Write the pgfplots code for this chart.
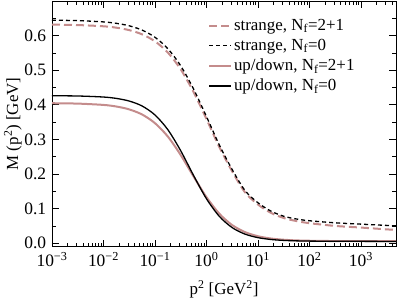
\documentclass[border=0pt]{standalone}
\usepackage{fontspec}
\setmainfont{Liberation Serif}
\usepackage{pgfplots}
\usepackage{pgfplotstable}
\pgfplotsset{compat=1.18}
\definecolor{rosy}{RGB}{196,140,140}
\pgfplotstableread{
x        s21     s0      ud21    ud0
0.001    0.6317  0.6445  0.4046  0.4262
0.003162 0.6305  0.6433  0.4035  0.4255
0.01     0.6269  0.6396  0.3997  0.4225
0.01778  0.6229  0.6355  0.3951  0.4185
0.03162  0.6158  0.6283  0.3868  0.4109
0.05623  0.6037  0.6159  0.3720  0.3966
0.1      0.5835  0.5952  0.3470  0.3707
0.1778   0.5511  0.5621  0.3083  0.3282
0.3162   0.5025  0.5126  0.2549  0.2673
0.5623   0.4369  0.4455  0.1929  0.1957
1        0.3591  0.3661  0.1332  0.1286
1.778    0.2780  0.2840  0.0853  0.0777
3.162    0.2075  0.2128  0.0524  0.0451
5.623    0.1470  0.1520  0.0321  0.0263
10       0.1120  0.1170  0.0203  0.0162
17.78    0.0880  0.0930  0.0137  0.0109
31.62    0.0730  0.0780  0.0101  0.0082
56.23    0.0640  0.0700  0.0082  0.0069
100      0.0580  0.0650  0.0072  0.0062
316.2    0.0500  0.0590  0.0063  0.0057
1000     0.0453  0.0552  0.0061  0.0055
3162     0.0401  0.0515  0.0060  0.0052
4800     0.0385  0.0502  0.0060  0.0050
}\datatable
\begin{document}
\fontsize{17}{20}\selectfont
\begin{tikzpicture}
\begin{axis}[
  scale only axis,
  width=344bp, height=245.7bp,
  xmode=log,
  xmin=0.001, xmax=4800,
  ymin=-0.01, ymax=0.7,
  xtick={0.001,0.01,0.1,1,10,100,1000},
  xticklabels={10\textsuperscript{−3},10\textsuperscript{−2},10\textsuperscript{−1},10\textsuperscript{0},10\textsuperscript{1},10\textsuperscript{2},10\textsuperscript{3}},
  minor xtick={0.002,0.003,0.004,0.005,0.006,0.007,0.008,0.009,
    0.02,0.03,0.04,0.05,0.06,0.07,0.08,0.09,
    0.2,0.3,0.4,0.5,0.6,0.7,0.8,0.9,
    2,3,4,5,6,7,8,9,20,30,40,50,60,70,80,90,
    200,300,400,500,600,700,800,900,2000,3000,4000},
  ytick={0,0.1,0.2,0.3,0.4,0.5,0.6},
  minor ytick={0.05,0.15,0.25,0.35,0.45,0.55,0.65},
  yticklabel style={/pgf/number format/.cd,fixed,fixed zerofill,precision=1,assume math mode=true},
  tick align=inside,
  xtick pos=both, ytick pos=both,
  xticklabel pos=lower, yticklabel pos=left,
  major tick length=7bp, minor tick length=4bp,
  every tick/.style={black, line width=0.7bp},
  axis line style={line width=0.8bp},
  tick label style={font=\fontsize{17.5}{20}\selectfont},
  xlabel={p\textsuperscript{2} [GeV\textsuperscript{2}]},
  ylabel={M (p\textsuperscript{2}) [GeV]},
  label style={font=\fontsize{17}{20}\selectfont},
  every axis x label/.style={at={(axis description cs:0.5,0)}, anchor=center, yshift=-43bp},
  every axis y label/.style={at={(axis description cs:0,0.5)}, anchor=center, xshift=-39bp, rotate=90},
  legend style={draw=none, fill=none, at={(0.453,0.935)}, anchor=north west,
    font=\fontsize{17}{20}\selectfont, row sep=2bp, inner sep=0pt},
  legend cell align=left,
  legend image code/.code={\draw[#1] (0bp,0bp) -- (22bp,0bp);},
]
\addplot[rosy, line width=2bp, dash pattern=on 8bp off 4bp, smooth] table[x=x,y=s21] {\datatable};
\addlegendentry{strange, N\textsubscript{f}=2+1}
\addplot[black, line width=1.3bp, dash pattern=on 4bp off 3bp, smooth] table[x=x,y=s0] {\datatable};
\addlegendentry{strange, N\textsubscript{f}=0}
\addplot[rosy, line width=2bp, smooth] table[x=x,y=ud21] {\datatable};
\addlegendentry{up/down, N\textsubscript{f}=2+1}
\addplot[black, line width=1.3bp, smooth] table[x=x,y=ud0] {\datatable};
\addlegendentry{up/down, N\textsubscript{f}=0}
\end{axis}
\pgfresetboundingbox
\path[use as bounding box] ([xshift=-52bp,yshift=-51.3bp]current axis.south west) rectangle ([xshift=2bp,yshift=1bp]current axis.north east);
\end{tikzpicture}
\end{document}
